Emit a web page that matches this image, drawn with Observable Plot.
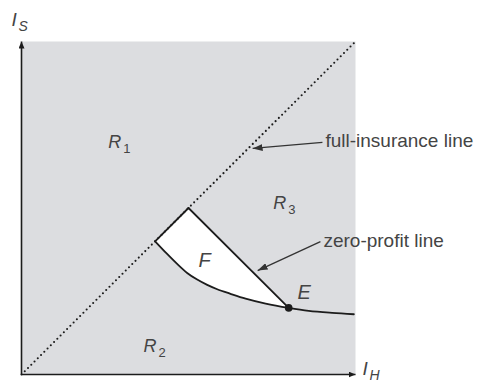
<!DOCTYPE html>
<html><head><meta charset="utf-8">
<script src="https://cdn.jsdelivr.net/npm/d3@7"></script>
<script src="https://cdn.jsdelivr.net/npm/@observablehq/plot@0.6"></script>
<style>html,body{margin:0;padding:0;background:#fff;} svg{display:block}</style>
</head><body><div id="chart"></div>
<script>
// ---- data (in the chart's own 0..1 coordinates: I_H along x, I_S along y) ----
const fullInsuranceLine = [{x: 0, y: 0}, {x: 1, y: 1}];
const diagonalEdgeF = [{x: 0.4, y: 0.4}, {x: 0.5, y: 0.5}];
const zeroProfitLine = [{x: 0.5, y: 0.5}, {x: 0.8, y: 0.2}];
const indifferenceCurve = [
  {x: 0.4, y: 0.4}, {x: 0.436, y: 0.362}, {x: 0.466, y: 0.332}, {x: 0.496, y: 0.305},
  {x: 0.526, y: 0.285}, {x: 0.556, y: 0.269}, {x: 0.586, y: 0.256}, {x: 0.624, y: 0.243},
  {x: 0.671, y: 0.228}, {x: 0.731, y: 0.213}, {x: 0.8, y: 0.2}, {x: 0.86, y: 0.191},
  {x: 0.93, y: 0.185}, {x: 0.995, y: 0.181}
];
const pointE = [{x: 0.8, y: 0.2}];
const axisLines = [{x1: 0, y1: 0, x2: 0, y2: 1}, {x1: 0, y1: 0, x2: 1, y2: 0}];
const regionLabels = [
  {name: "R", sub: "1", x: 0.26, y: 0.679},
  {name: "R", sub: "2", x: 0.365, y: 0.069},
  {name: "R", sub: "3", x: 0.754, y: 0.498}
];
const pointLabels = [{name: "F", x: 0.53, y: 0.324}, {name: "E", x: 0.826, y: 0.227}];
const axisLabels = [{name: "I", sub: "S", x: -0.03, y: 1.048}, {name: "I", sub: "H", x: 1.021, y: 0.0}];
const annotations = [
  {text: "full-insurance line", x: 0.91, y: 0.682, x1: 0.901, y1: 0.697, x2: 0.692, y2: 0.679},
  {text: "zero-profit line", x: 0.904, y: 0.384, x1: 0.895, y1: 0.399, x2: 0.707, y2: 0.312}
];

// region F: zero-profit line, then the indifference curve back from E to the full-insurance line
const upToE = indifferenceCurve.filter(d => d.x <= 0.8);
const regionF = [zeroProfitLine[0], ...upToE.slice().reverse()];

function head(len, wid) {
  return (color, context) => {
    const doc = (context && context.document) || document;
    const ns = "http://www.w3.org/2000/svg";
    const m = doc.createElementNS(ns, "marker");
    m.setAttribute("viewBox", `${-len} ${-wid / 2} ${len} ${wid}`);
    m.setAttribute("markerUnits", "userSpaceOnUse");
    m.setAttribute("markerWidth", len);
    m.setAttribute("markerHeight", wid);
    m.setAttribute("refX", 0);
    m.setAttribute("refY", 0);
    m.setAttribute("orient", "auto");
    const p = doc.createElementNS(ns, "path");
    p.setAttribute("d", `M${-len},${-wid / 2}L0,0L${-len},${wid / 2}Z`);
    p.setAttribute("fill", color);
    p.setAttribute("stroke", "none");
    m.appendChild(p);
    return m;
  };
}

const ink = "#1c1c1c";
const textInk = "#444";
const font = "'Liberation Sans', Arial, Helvetica, sans-serif";

const chart = Plot.plot({
  width: 480,
  height: 382,
  marginTop: 41,
  marginRight: 125,
  marginBottom: 8,
  marginLeft: 21,
  x: {domain: [0, 1], axis: null},
  y: {domain: [0, 1], axis: null},
  style: {fontFamily: font, background: "#fff"},
  marks: [
    Plot.frame({fill: "#dcdde0", stroke: "none"}),
    Plot.line(regionF, {x: "x", y: "y", fill: "#fff", stroke: "none"}),
    Plot.line(fullInsuranceLine, {x: "x", y: "y", stroke: ink, strokeWidth: 2.1, strokeDasharray: "0 4.6", strokeLinecap: "round"}),
    Plot.line(diagonalEdgeF, {x: "x", y: "y", stroke: ink, strokeWidth: 1.8}),
    Plot.line(zeroProfitLine, {x: "x", y: "y", stroke: ink, strokeWidth: 1.8}),
    Plot.line(indifferenceCurve, {x: "x", y: "y", stroke: ink, strokeWidth: 1.8, curve: "catmull-rom"}),
    Plot.dot(pointE, {x: "x", y: "y", r: 3.8, fill: ink, stroke: "none"}),
    Plot.link(axisLines, {x1: "x1", y1: "y1", x2: "x2", y2: "y2", stroke: ink, strokeWidth: 1.6, markerEnd: head(7, 6)}),
    Plot.link(annotations, {x1: "x1", y1: "y1", x2: "x2", y2: "y2", stroke: "#333", strokeWidth: 1.3, markerEnd: head(10, 7)}),
    Plot.text(annotations, {x: "x", y: "y", text: "text", textAnchor: "start", lineAnchor: "bottom", fontSize: 19, fill: textInk}),
    Plot.text(regionLabels, {x: "x", y: "y", text: "name", textAnchor: "start", lineAnchor: "bottom", fontSize: 18, fontStyle: "italic", fill: textInk}),
    Plot.text(regionLabels, {x: "x", y: "y", text: "sub", textAnchor: "start", lineAnchor: "bottom", fontSize: 13, dx: 15, dy: 5, fill: textInk}),
    Plot.text(pointLabels, {x: "x", y: "y", text: "name", textAnchor: "start", lineAnchor: "bottom", fontSize: 20, fontStyle: "italic", fill: textInk}),
    Plot.text(axisLabels, {x: "x", y: "y", text: "name", textAnchor: "start", lineAnchor: "bottom", fontSize: 19, fontStyle: "italic", fill: textInk}),
    Plot.text(axisLabels, {x: "x", y: "y", text: "sub", textAnchor: "start", lineAnchor: "bottom", fontSize: 14, fontStyle: "italic", dx: 7, dy: 5, fill: textInk})
  ]
});
document.getElementById("chart").appendChild(chart);
</script>
</body></html>
